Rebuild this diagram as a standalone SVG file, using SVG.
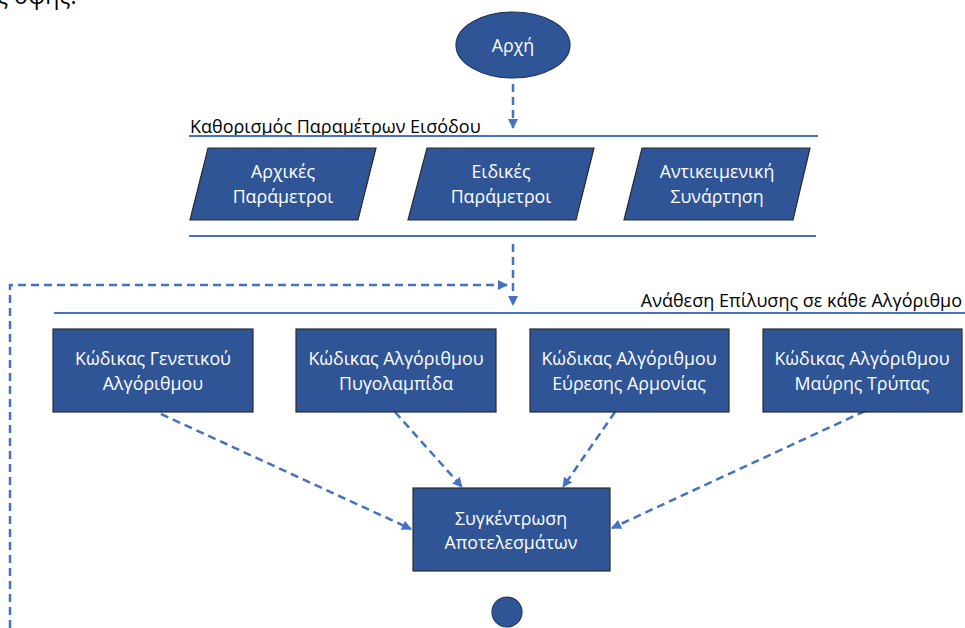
<svg xmlns="http://www.w3.org/2000/svg" width="965" height="628" viewBox="0 0 965 628">
  <defs>
    <marker id="arrow" viewBox="0 0 10 10" refX="9" refY="5" markerWidth="4" markerHeight="4" orient="auto" markerUnits="strokeWidth">
      <path d="M0,0 L10,5 L0,10 z" fill="#4472C4"/>
    </marker>
    <style>
      .shape { fill: #2F5597; stroke: #2B2B2B; stroke-width: 1.2; }
      .ell { fill: #2F5597; stroke: #1F3864; stroke-width: 1.2; }
      .lbl { font-family: "Open Sans", "Noto Sans", sans-serif; font-size: 17.8px; fill: #FFFFFF; text-anchor: middle; }
      .hdr { font-family: "Open Sans", "Noto Sans", sans-serif; font-size: 18px; fill: #000000; }
      .rule { stroke: #4472C4; stroke-width: 2; fill: none; }
      .flow { stroke: #4472C4; stroke-width: 2.5; fill: none; stroke-dasharray: 8 5; marker-end: url(#arrow); }
    </style>
  </defs>

  <rect width="965" height="628" fill="#FFFFFF"/>

  <!-- running text from the page above -->
  <text x="-3" y="4" font-family="Open Sans, Noto Sans, sans-serif" font-size="23" fill="#000000">ς όψης:</text>

  <!-- section rules and headings -->
  <g id="section-input">
    <text class="hdr" x="190" y="133">Καθορισμός Παραμέτρων Εισόδου</text>
    <line class="rule" x1="189" y1="136" x2="818" y2="136"/>
    <line class="rule" x1="189" y1="236" x2="816" y2="236"/>
  </g>
  <g id="section-assign">
    <text class="hdr" x="962" y="307" text-anchor="end">Ανάθεση Επίλυσης σε κάθε Αλγόριθμο</text>
    <line class="rule" x1="54" y1="313" x2="965" y2="313"/>
  </g>

  <!-- connectors -->
  <g id="connectors">
    <line class="flow" x1="513" y1="84" x2="513" y2="128"/>
    <line class="flow" x1="513" y1="244" x2="513" y2="305"/>
    <polyline class="flow" points="10,628 10,285 507,285"/>
    <line class="flow" x1="161" y1="414" x2="411" y2="529"/>
    <line class="flow" x1="395" y1="412" x2="462" y2="487"/>
    <line class="flow" x1="615" y1="412" x2="563" y2="487"/>
    <line class="flow" x1="865" y1="411" x2="612" y2="528"/>
  </g>

  <!-- nodes -->
  <g id="start">
    <ellipse class="ell" cx="513" cy="45" rx="57" ry="33"/>
    <text class="lbl" x="513" y="52">Αρχή</text>
  </g>

  <g id="initial-params">
    <polygon class="shape" points="208,148 376,148 358,220 190,220"/>
    <text class="lbl" x="283" y="178">Αρχικές</text>
    <text class="lbl" x="283" y="203">Παράμετροι</text>
  </g>
  <g id="special-params">
    <polygon class="shape" points="427,148 594,148 576,220 408,220"/>
    <text class="lbl" x="501" y="178">Ειδικές</text>
    <text class="lbl" x="501" y="203">Παράμετροι</text>
  </g>
  <g id="objective">
    <polygon class="shape" points="642,148 810,148 793,220 624,220"/>
    <text class="lbl" x="717" y="178">Αντικειμενική</text>
    <text class="lbl" x="717" y="203">Συνάρτηση</text>
  </g>

  <g id="genetic">
    <rect class="shape" x="53" y="329" width="200" height="83"/>
    <text class="lbl" x="153" y="365">Κώδικας Γενετικού</text>
    <text class="lbl" x="153" y="390">Αλγόριθμου</text>
  </g>
  <g id="firefly">
    <rect class="shape" x="296" y="329" width="200" height="83"/>
    <text class="lbl" x="396" y="365">Κώδικας Αλγόριθμου</text>
    <text class="lbl" x="396" y="390">Πυγολαμπίδα</text>
  </g>
  <g id="harmony">
    <rect class="shape" x="530" y="329" width="199" height="83"/>
    <text class="lbl" x="629" y="365">Κώδικας Αλγόριθμου</text>
    <text class="lbl" x="629" y="390">Εύρεσης Αρμονίας</text>
  </g>
  <g id="black-hole">
    <rect class="shape" x="763" y="329" width="199" height="83"/>
    <text class="lbl" x="862" y="365">Κώδικας Αλγόριθμου</text>
    <text class="lbl" x="862" y="390">Μαύρης Τρύπας</text>
  </g>

  <g id="collect">
    <rect class="shape" x="413" y="488" width="197" height="83"/>
    <text class="lbl" x="511" y="525">Συγκέντρωση</text>
    <text class="lbl" x="511" y="549">Αποτελεσμάτων</text>
  </g>

  <g id="connector-point">
    <circle class="ell" cx="507" cy="612" r="15"/>
  </g>
</svg>
